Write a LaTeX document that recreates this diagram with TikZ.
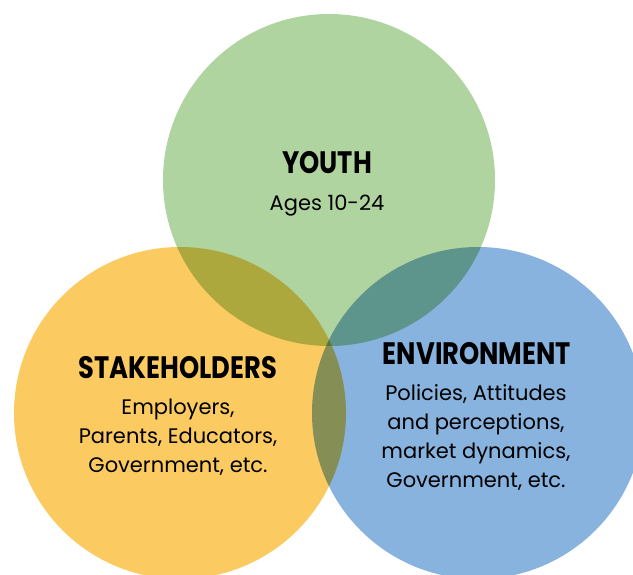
\documentclass[tikz,border=0pt]{standalone}
\usepackage{fontspec}
\setmainfont{Poppins}
\newfontfamily\headfont{Poppins}[FakeStretch=0.83]
\usetikzlibrary{positioning}

\definecolor{youthgreen}{RGB}{176,212,160}
\definecolor{stakeorange}{RGB}{251,203,98}
\definecolor{envblue}{RGB}{136,179,223}

\tikzset{
    head/.style={font=\headfont\bfseries\fontsize{31}{32}\selectfont, inner sep=0pt, anchor=base},
    blurb/.style={font=\fontsize{21}{28.7}\selectfont, align=center, inner sep=0pt, anchor=base}
}

\begin{document}
\begin{tikzpicture}[x=1pt,y=-1pt]
    \useasboundingbox (0,0) rectangle (633,575);
    \clip (0,0) rectangle (633,575);

    % the three circles, overlaps darken
    \begin{scope}[blend mode=multiply]
        \fill[youthgreen] (329,180) circle (166pt);
        \fill[stakeorange] (180,413) circle (166pt);
        \fill[envblue] (478,413) circle (166pt);
    \end{scope}

    % base anchor sits on the last line
    \node[head] (youth) at (327,174) {YOUTH};
    \node[blurb] (youthtxt) at (327,211) {Ages 10-24};

    \node[head] (stake) at (178,378) {STAKEHOLDERS};
    \node[blurb] (staketxt) at (178,472) {Employers,\\Parents, Educators,\\Government, etc.};

    \node[head] (env) at (477,365) {ENVIRONMENT};
    \node[blurb] (envtxt) at (476,487) {Policies, Attitudes\\and perceptions,\\market dynamics,\\Government, etc.};
\end{tikzpicture}
\end{document}
